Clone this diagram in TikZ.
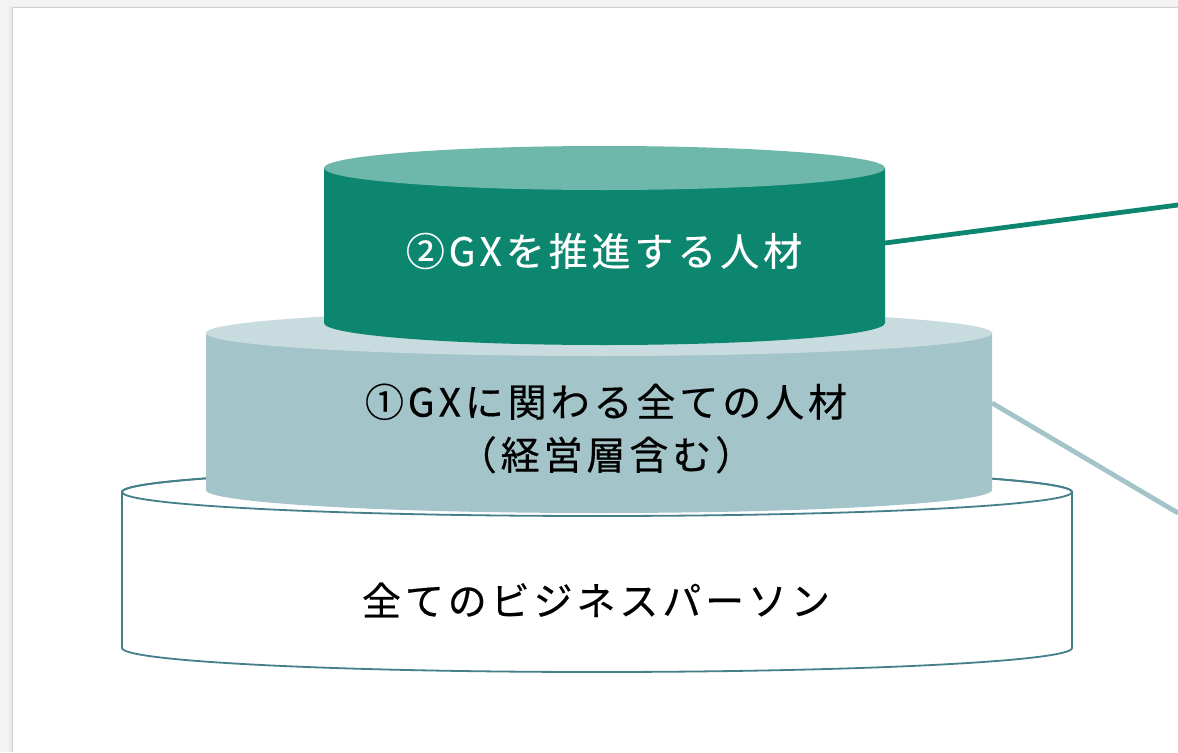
\documentclass[tikz,border=0pt]{standalone}
\usepackage{fontspec}
\setmainfont{Noto Sans CJK JP}[LetterSpace=10, FakeBold=0.4]

\definecolor{pagegray}{HTML}{F3F3F3}
\definecolor{gxgreen}{HTML}{0D8670}
\definecolor{gxgreentop}{HTML}{6DB8AA}
\definecolor{allblue}{HTML}{A3C4C8}
\definecolor{allbluetop}{HTML}{C8DCDF}
\definecolor{bizedge}{HTML}{447F8A}

\begin{document}
\begin{tikzpicture}[x=0.5pt, y=0.5pt,
    lbl/.style={font=\fontsize{19.5}{26.5}\selectfont, align=center, inner sep=0pt},
    link/.style={line width=2.4pt}]
    \useasboundingbox (0,0) rectangle (1178,752);
    % page and its shadow
    \fill[pagegray] (0,0) rectangle (1178,752);
    \fill[black!8] (9,0) rectangle (1178,745.5);
    \fill[black!18] (11.5,0) rectangle (1178,744.5);
    \fill[white] (13,0) rectangle (1178,744);

    % bottom layer: all business persons
    \filldraw[fill=white, draw=bizedge, line width=0.9pt] (122,260) -- (122,104) arc[start angle=180, end angle=360, x radius=475, y radius=24] -- (1072,260) arc[start angle=0, end angle=180, x radius=475, y radius=24] -- cycle;
    \draw[bizedge, line width=0.9pt] (597,260) ellipse[x radius=475, y radius=24];

    % middle layer: everyone working on GX
    \fill[allblue] (206,419) -- (206,262) arc[start angle=180, end angle=360, x radius=393, y radius=23] -- (992,419) -- cycle;
    \fill[allbluetop] (599,419) ellipse[x radius=393, y radius=23];

    % top layer: GX drivers
    \fill[gxgreen] (324,584) -- (324,429) arc[start angle=180, end angle=360, x radius=280.5, y radius=22] -- (885,584) -- cycle;
    \fill[gxgreentop] (604.5,584) ellipse[x radius=280.5, y radius=22];

    % labels
    \node[lbl, white] (gx) at (604,501) {②GXを推進する人材};
    \node[lbl] (all) at (606,323.5) {①GXに関わる全ての人材\\（経営層含む）};
    \node[lbl] (biz) at (596,152) {全てのビジネスパーソン};

    % connectors to the right
    \coordinate (gxR) at (885,509);
    \coordinate (gxEnd) at (1178,547);
    \coordinate (allR) at (992,349);
    \coordinate (allEnd) at (1178,239);
    \draw[link, gxgreen] (gxR) -- (gxEnd);
    \draw[link, allblue] (allR) -- (allEnd);
\end{tikzpicture}
\end{document}
